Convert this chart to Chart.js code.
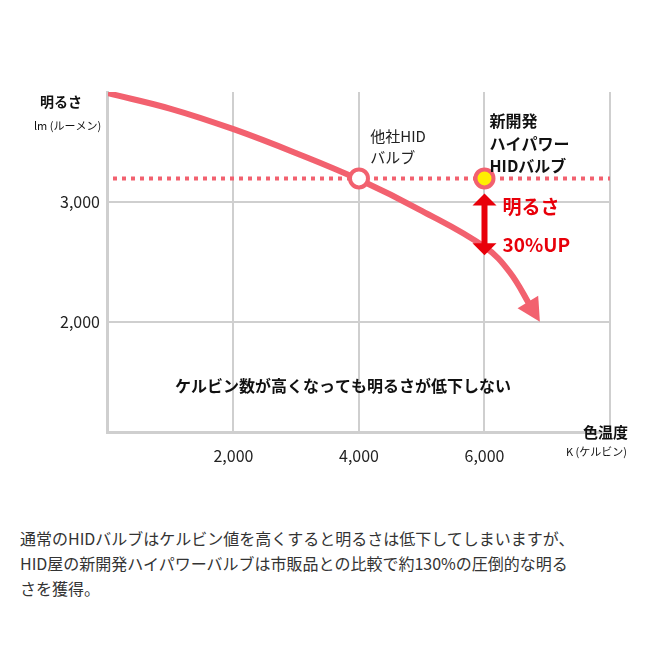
<!DOCTYPE html><html><head><meta charset="utf-8">
<script src="https://cdn.jsdelivr.net/npm/chart.js@4"></script>
<style>body{margin:0;background:#fff;width:663px;height:663px;overflow:hidden;font-family:"Noto Sans CJK JP",sans-serif}
#c{position:absolute;left:0;top:0}
#t{position:absolute;left:20px;top:526px;width:640px;font-size:16px;line-height:25px;color:#333;white-space:nowrap}</style></head><body>
<canvas id="c" width="663" height="480"></canvas>
<div id="t">通常のHIDバルブはケルビン値を高くすると明るさは低下してしまいますが、<br>HID屋の新開発ハイパワーバルブは市販品との比較で約130%の圧倒的な明る<br>さを獲得。</div>
<script>
const curveX=[0,1000,2000,3000,4000,5000,6000,6400,6750];
const curveY=[3910,3780,3610,3410,3190,2930,2630,2420,2120];
const refLevel=3200;
const markerX=[4000,6000];
const yTicks=[2000,3000];
const xTicks=[2000,4000,6000,8000];
const C='#f2616f';
const ann={id:'ann',afterDatasetsDraw(ch){const c=ch.ctx,x=ch.scales.x,y=ch.scales.y;c.save();
const n=curveX.length,px=x.getPixelForValue(curveX[n-1]),py=y.getPixelForValue(curveY[n-1]),qx=x.getPixelForValue(curveX[n-2]),qy=y.getPixelForValue(curveY[n-2]);
const a=Math.atan2(py-qy,px-qx);c.fillStyle=C;c.beginPath();const tx=px+16*Math.cos(a),ty=py+16*Math.sin(a);
c.moveTo(tx,ty);c.lineTo(px+14*Math.cos(a+2.1),py+14*Math.sin(a+2.1));c.lineTo(px+14*Math.cos(a-2.1),py+14*Math.sin(a-2.1));c.fill();
const ax=x.getPixelForValue(6000),y1=y.getPixelForValue(3075),y2=y.getPixelForValue(2560);c.fillStyle='#e8000a';
c.fillRect(ax-3,y1+10,6,y2-y1-20);c.beginPath();c.moveTo(ax,y1);c.lineTo(ax-12,y1+12);c.lineTo(ax+12,y1+12);c.fill();
c.beginPath();c.moveTo(ax,y2);c.lineTo(ax-12,y2-12);c.lineTo(ax+12,y2-12);c.fill();
c.textBaseline='middle';c.font='bold 19px "Noto Sans CJK JP"';c.fillStyle='#e8000a';c.fillText('明るさ',ax+18,y.getPixelForValue(2960));c.fillText('30%UP',ax+18,y.getPixelForValue(2650));
c.fillStyle='#111';c.font='bold 16px "Noto Sans CJK JP"';const bx=x.getPixelForValue(6080);
c.fillText('新開発',bx,y.getPixelForValue(3680));c.fillText('ハイパワー',bx,y.getPixelForValue(3490));c.fillText('HIDバルブ',bx,y.getPixelForValue(3300));
c.font='15px "Noto Sans CJK JP"';c.fillStyle='#222';const ox=x.getPixelForValue(4180);c.fillText('他社HID',ox,y.getPixelForValue(3550));c.fillText('バルブ',ox,y.getPixelForValue(3380));
c.font='bold 16px "Noto Sans CJK JP"';c.fillStyle='#111';c.fillText('ケルビン数が高くなっても明るさが低下しない',175,y.getPixelForValue(1470));
c.font='bold 14px "Noto Sans CJK JP"';c.fillText('明るさ',40,102);c.font='11px "Noto Sans CJK JP"';c.fillText('lm (ルーメン)',34,126);
c.font='bold 15px "Noto Sans CJK JP"';c.fillText('色温度',583,432);c.font='11px "Noto Sans CJK JP"';c.fillText('K (ケルビン)',566,452);
c.restore();}};
new Chart(document.getElementById('c'),{type:'scatter',data:{datasets:[
{data:curveX.map((v,i)=>({x:v,y:curveY[i]})),showLine:true,borderColor:C,borderWidth:6,pointRadius:0,tension:0.4,order:2},
{data:[{x:80,y:refLevel},{x:8000,y:refLevel}],showLine:true,borderColor:C,borderWidth:4,borderDash:[4,5],pointRadius:0,order:3},
{data:markerX.map(v=>({x:v,y:refLevel})),pointRadius:9,pointBorderWidth:4,borderColor:C,backgroundColor:['#fff','#ffee00'],order:1}]},
options:{animation:false,responsive:false,devicePixelRatio:1,plugins:{legend:{display:false},tooltip:{enabled:false}},
layout:{padding:{left:52,right:53,top:92,bottom:0}},
scales:{x:{min:0,max:8000,afterBuildTicks:s=>{s.ticks=xTicks.map(v=>({value:v}))},grid:{color:'#cfcfcf',lineWidth:2,drawTicks:false},border:{color:'#cfcfcf',width:3},
ticks:{padding:14,color:'#222',font:{size:16,family:'Noto Sans CJK JP'},callback:v=>v===8000?'':v.toLocaleString('en-US')}},
y:{min:1080,max:3920,afterBuildTicks:s=>{s.ticks=yTicks.map(v=>({value:v}))},grid:{color:'#cfcfcf',lineWidth:2,drawTicks:false},border:{color:'#cfcfcf',width:3},
ticks:{padding:8,color:'#222',font:{size:16,family:'Noto Sans CJK JP'},callback:v=>v.toLocaleString('en-US')}}}},plugins:[ann]});
</script></body></html>
